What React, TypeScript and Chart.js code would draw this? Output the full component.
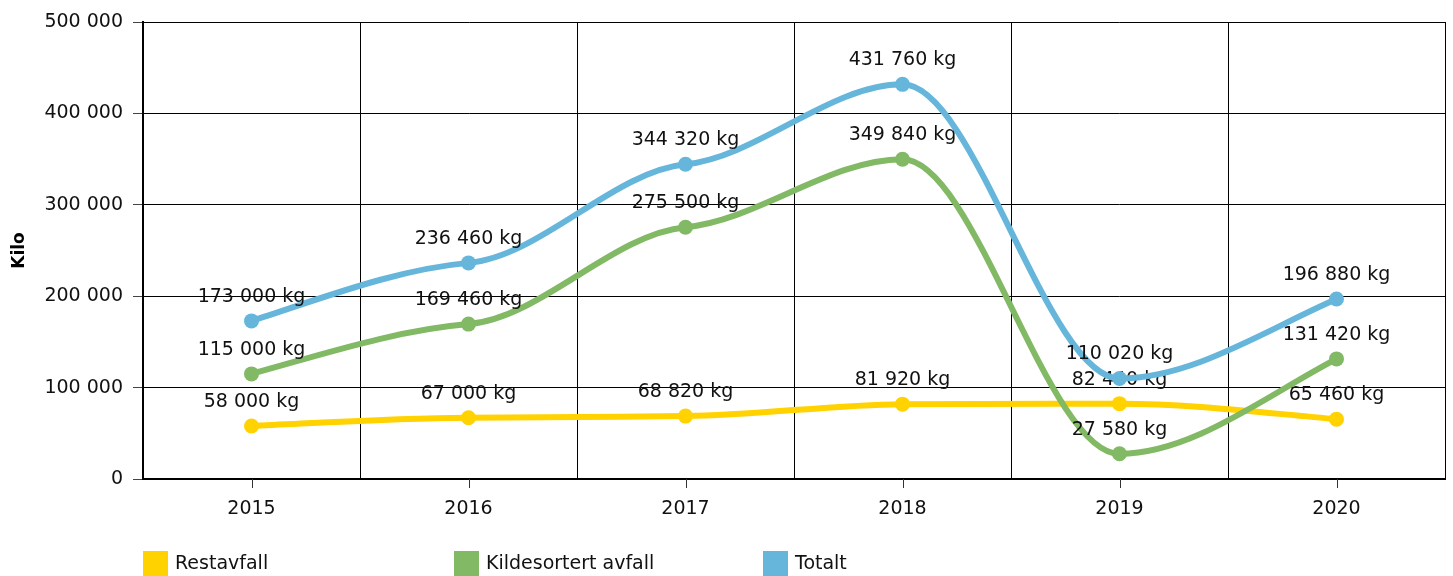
import React, { useEffect, useRef } from "react";
import { Chart, registerables } from "chart.js";

Chart.register(...registerables);

const years = ["2015", "2016", "2017", "2018", "2019", "2020"];
const restavfall = [58000, 67000, 68820, 81920, 82440, 65460];
const kildesortert = [115000, 169460, 275500, 349840, 27580, 131420];
const totalt = [173000, 236460, 344320, 431760, 110020, 196880];
const seriesNames = ["Restavfall", "Kildesortert avfall", "Totalt"];
const seriesColors = ["#FFD200", "#82B964", "#66B6DC"];
const yTitle = "Kilo";

const FONT = "'DejaVu Sans', Verdana, sans-serif";

const fmt = (v: number) => String(v).replace(/\B(?=(\d{3})+(?!\d))/g, " ");

// Smooth curve: flattened tangents at inner points, flat at extremes
const smoothCurvePlugin = {
  id: "smoothCurve",
  beforeDatasetDraw(chart: any, args: any) {
    const meta = args.meta;
    const line = meta.dataset;
    if (!line) return;
    line.updateControlPoints(chart.chartArea, "x");
    const pts = meta.data;
    const n = pts.length;
    for (let i = 0; i < n; i++) {
      const p = pts[i];
      const prev = pts[i - 1];
      const next = pts[i + 1];
      let m = 0;
      if (!prev && next) {
        m = (1.2 * (next.y - p.y)) / (next.x - p.x);
      } else if (prev && !next) {
        m = (1.2 * (p.y - prev.y)) / (p.x - prev.x);
      } else if (prev && next) {
        const s0 = (p.y - prev.y) / (p.x - prev.x);
        const s1 = (next.y - p.y) / (next.x - p.x);
        m = s0 * s1 <= 0 ? 0 : (0.25 * (s0 + s1)) / 2;
      }
      const d0 = prev ? (p.x - prev.x) / 3 : 0;
      const d1 = next ? (next.x - p.x) / 3 : 0;
      p.cp1x = p.x - d0;
      p.cp1y = p.y - m * d0;
      p.cp2x = p.x + d1;
      p.cp2y = p.y + m * d1;
    }
    line._path = undefined;
  },
};

const labelsPlugin = {
  id: "valueLabels",
  afterDatasetDraw(chart: any, args: any) {
    const ctx = chart.ctx;
    const meta = args.meta;
    const ds = chart.data.datasets[args.index];
    ctx.save();
    ctx.font = `19px ${FONT}`;
    ctx.fillStyle = "#111";
    ctx.textAlign = "center";
    ctx.textBaseline = "middle";
    meta.data.forEach((pt: any, i: number) => {
      ctx.fillText(fmt(ds.data[i]) + " kg", pt.x, pt.y - 24);
    });
    ctx.restore();
  },
  afterDraw(chart: any) {
    const ctx = chart.ctx;
    const xs = chart.scales.x;
    const bottom = chart.chartArea.bottom;
    ctx.save();
    ctx.strokeStyle = "#333";
    ctx.lineWidth = 1;
    chart.data.labels.forEach((_l: any, i: number) => {
      const x = Math.round(xs.getPixelForValue(i)) + 0.5;
      ctx.beginPath();
      ctx.moveTo(x, bottom);
      ctx.lineTo(x, bottom + 9);
      ctx.stroke();
    });
    // legend
    const starts = [143, 454, 763];
    ctx.font = `19px ${FONT}`;
    ctx.textAlign = "left";
    ctx.textBaseline = "middle";
    seriesNames.forEach((name, i) => {
      ctx.fillStyle = seriesColors[i];
      ctx.fillRect(starts[i], 551, 25, 26);
      ctx.fillStyle = "#111";
      ctx.fillText(name, starts[i] + 32, 564);
    });
    ctx.restore();
  },
};

export default function App() {
  const ref = useRef<HTMLCanvasElement>(null);
  useEffect(() => {
    document.body.style.margin = "0";
    const values = [restavfall, kildesortert, totalt];
    const chart = new Chart(ref.current as HTMLCanvasElement, {
      type: "line",
      data: {
        labels: years,
        datasets: values.map((d, i) => ({
          label: seriesNames[i],
          data: d,
          borderColor: seriesColors[i],
          backgroundColor: seriesColors[i],
          borderWidth: 6,
          pointRadius: 7.5,
          pointHoverRadius: 7.5,
          pointBorderWidth: 0,
          tension: 0.4,
          fill: false,
          order: 3 - i,
        })),
      },
      options: {
        animation: false,
        responsive: false,
        maintainAspectRatio: false,
        layout: { padding: { top: 22, right: 8, bottom: 0, left: 0 } },
        plugins: {
          legend: { display: false },
          tooltip: { enabled: false },
        },
        scales: {
          x: {
            offset: true,
            grid: {
              offset: true,
              color: "#000",
              lineWidth: 1,
              drawTicks: false,
            },
            border: { color: "#000", width: 2 },
            ticks: {
              color: "#111",
              font: { family: FONT, size: 19 },
              padding: 19,
              maxRotation: 0,
            },
            afterFit: (s: any) => {
              s.height = 97;
            },
          },
          y: {
            min: 0,
            max: 500000,
            grid: {
              color: "#000",
              lineWidth: 1,
              drawTicks: true,
              tickLength: 10,
              tickColor: "#444",
            },
            border: { color: "#000", width: 2 },
            ticks: {
              stepSize: 100000,
              color: "#111",
              font: { family: FONT, size: 19 },
              padding: 10,
              callback: (v: any) => fmt(Number(v)),
            },
            title: {
              display: true,
              text: yTitle,
              color: "#000",
              font: { family: FONT, size: 17, weight: "bold" },
              padding: { top: 9, bottom: 0 },
            },
            afterFit: (s: any) => {
              s.width = 143;
            },
          },
        },
      },
      plugins: [smoothCurvePlugin, labelsPlugin],
    });
    return () => chart.destroy();
  }, []);
  return (
    <div style={{ position: "fixed", left: 0, top: 0, width: 1453, height: 576 }}>
      <canvas ref={ref} width={1453} height={576} style={{ display: "block" }} />
    </div>
  );
}
